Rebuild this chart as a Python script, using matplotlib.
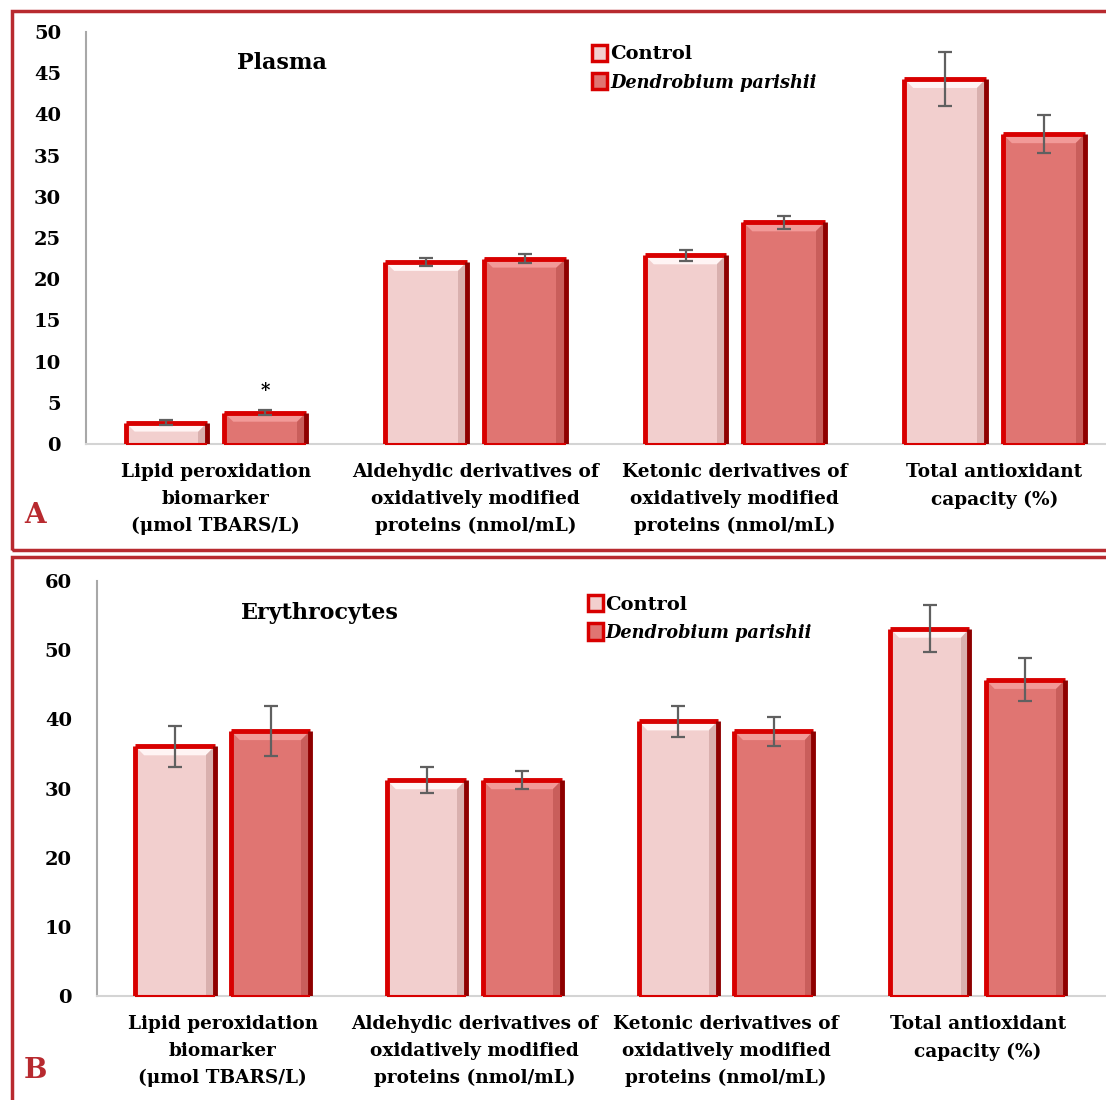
import numpy as np
import matplotlib.pyplot as plt
from matplotlib.patches import Patch, Polygon, Rectangle

plt.rcParams['font.family'] = ['DejaVu Serif']
plt.rcParams['font.weight'] = 'bold'

categories = ['Lipid peroxidation\nbiomarker\n(\u03bcmol TBARS/L)',
              'Aldehydic derivatives of\noxidatively modified\nproteins (nmol/mL)',
              'Ketonic derivatives of\noxidatively modified\nproteins (nmol/mL)',
              'Total antioxidant\ncapacity (%)']
groups = ['Control', 'Dendrobium parishii']

# plasma
plasma_control = [2.6, 22.1, 22.9, 44.3]
plasma_control_err = [0.3, 0.5, 0.7, 3.3]
plasma_dp = [3.8, 22.5, 26.9, 37.6]
plasma_dp_err = [0.3, 0.5, 0.8, 2.3]
plasma_sig_dp = ['*', '', '', '']

# erythrocytes
ery_control = [36.1, 31.2, 39.7, 53.1]
ery_control_err = [3.0, 1.9, 2.2, 3.4]
ery_dp = [38.3, 31.2, 38.3, 45.7]
ery_dp_err = [3.6, 1.3, 2.1, 3.1]

face = ['#f2cfce', '#e07572']
top_bevel = ['#fff4f4', '#f29a98']
side_bevel = ['#d9b0ae', '#c95e5b']
frame_red = '#d80000'
frame_dark = '#8e0000'
box_red = '#b82a2f'


def bevel_bars(ax, bars, k, px_per_unit):
    bx = 0.035
    by = 9 / px_per_unit
    for b in bars:
        x0, w, h = b.get_x(), b.get_width(), b.get_height()
        x1 = x0 + w
        byy = min(by, h * 0.45)
        ax.add_patch(Polygon([(x0, h), (x1, h), (x1 - bx, h - byy), (x0 + bx, h - byy)],
                             closed=True, facecolor=top_bevel[k], edgecolor='none', zorder=3))
        ax.add_patch(Polygon([(x1, h), (x1, 0), (x1 - bx, 0), (x1 - bx, h - byy)],
                             closed=True, facecolor=side_bevel[k], edgecolor='none', zorder=3))
        ax.plot([x0, x1], [h, h], color=frame_red, lw=3.5, zorder=4, solid_capstyle='butt')
        ax.plot([x0, x0], [0, h], color=frame_red, lw=3.5, zorder=4, solid_capstyle='butt')
        ax.plot([x1, x1], [0, h], color=frame_dark, lw=3.5, zorder=4, solid_capstyle='butt')
        ax.plot([x0, x1], [0, 0], color=frame_red, lw=1.5, zorder=4, solid_capstyle='butt',
                clip_on=False)


def draw_panel(rect, title, title_pos, ctrl, ctrl_err, dp, dp_err, ymax, ystep,
               xmax, leg_pos, stars=None):
    ax = fig.add_axes(rect)
    x = np.arange(len(categories))
    off = 0.19
    w = 0.315
    fig_h_px = fig.get_figheight() * fig.dpi
    ppu = rect[3] * fig_h_px / ymax
    for k, (vals, errs, sgn) in enumerate([(ctrl, ctrl_err, -1), (dp, dp_err, 1)]):
        bars = ax.bar(x + sgn * off, vals, w, color=face[k], edgecolor='none', zorder=2)
        bevel_bars(ax, bars, k, ppu)
        ax.errorbar(x + sgn * off, vals, yerr=errs, fmt='none', ecolor='#606060',
                    elinewidth=1.6, capsize=5, capthick=1.6, zorder=5)
    if stars:
        for i, s in enumerate(stars):
            if s:
                ax.text(x[i] + off, dp[i] + dp_err[i] + 1.3, s, ha='center', va='bottom',
                        fontsize=13, fontweight='bold')
    ax.set_ylim(0, ymax)
    ax.set_xlim(-0.5, xmax)
    ax.set_yticks(np.arange(0, ymax + 1, ystep))
    ax.set_xticks(x)
    ax.set_xticklabels(categories, fontsize=13.3, linespacing=1.62)
    ax.tick_params(axis='both', length=0)
    ax.tick_params(axis='y', pad=18, labelsize=14)
    ax.tick_params(axis='x', pad=14)
    for t in ax.get_yticklabels() + ax.get_xticklabels():
        t.set_fontweight('bold')
    ax.spines['top'].set_visible(False)
    ax.spines['right'].set_visible(False)
    ax.spines['left'].set_color('#a8a8a8')
    ax.spines['left'].set_linewidth(1.5)
    ax.spines['bottom'].set_color('#d4d4d4')
    ax.spines['bottom'].set_linewidth(1.5)
    ax.text(title_pos[0], title_pos[1], title, transform=ax.transAxes, ha='center',
            va='center', fontsize=16, fontweight='bold')
    handles = [Patch(facecolor=face[0], edgecolor=frame_red, linewidth=2.5),
               Patch(facecolor=face[1], edgecolor=frame_red, linewidth=2.5)]
    leg = ax.legend(handles, groups, loc='upper left', bbox_to_anchor=leg_pos,
                    frameon=False, handlelength=0.75, handleheight=0.9,
                    handletextpad=0.15, labelspacing=0.5, borderpad=0,
                    prop={'size': 14, 'weight': 'bold'})
    leg.get_texts()[1].set_style('italic')
    leg.get_texts()[1].set_fontsize(12.8)
    return ax


fig = plt.figure(figsize=(11.06, 11.0), dpi=100)

# panel frames
fig.patches.append(Rectangle((12 / 1106, 1 - 550 / 1100), 1.1, 539 / 1100,
                             transform=fig.transFigure, fill=False,
                             edgecolor=box_red, linewidth=2.5))
fig.patches.append(Rectangle((12 / 1106, -0.05), 1.1, 0.05 + 543 / 1100,
                             transform=fig.transFigure, fill=False,
                             edgecolor=box_red, linewidth=2.5))

draw_panel([86 / 1106, 1 - 444 / 1100, 1020 / 1106, 412 / 1100], 'Plasma', (0.192, 0.925),
           plasma_control, plasma_control_err, plasma_dp, plasma_dp_err, 50, 5, 3.43,
           (0.487, 0.993), stars=plasma_sig_dp)
draw_panel([97 / 1106, 1 - 996 / 1100, 1009 / 1106, 415 / 1100], 'Erythrocytes', (0.221, 0.923),
           ery_control, ery_control_err, ery_dp, ery_dp_err, 60, 10, 3.51,
           (0.477, 0.99))

fig.text(35 / 1106, 1 - 515 / 1100, 'A', color=box_red, fontsize=20, fontweight='bold',
         ha='center', va='center')
fig.text(35 / 1106, 1 - 1070 / 1100, 'B', color=box_red, fontsize=20, fontweight='bold',
         ha='center', va='center')

fig.savefig('out.png', dpi=100)
